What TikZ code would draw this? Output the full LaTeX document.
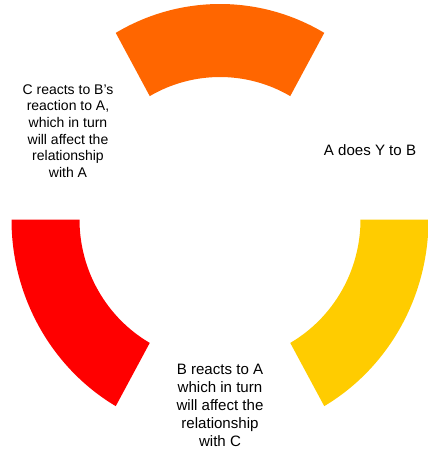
\documentclass[tikz,border=0pt]{standalone}
\usepackage{fontspec}
\setmainfont{Liberation Sans}

\definecolor{ringOrange}{RGB}{255,102,0}
\definecolor{ringYellow}{RGB}{255,204,0}
\definecolor{ringRed}{RGB}{255,0,0}

\tikzset{every picture/.style={line width=0.75pt}}

\begin{document}
\begin{tikzpicture}[x=0.75pt,y=0.75pt,yscale=-1,xscale=1,
  lbl/.style={align=center,inner sep=0.75pt,font=\fontsize{11.3}{13.5}\selectfont},
  lblsmall/.style={lbl,font=\fontsize{10.5}{12.5}\selectfont}]
\useasboundingbox (0,0) rectangle (428,451);

%Shape: Arc [top]
\fill [ringOrange] ([shift={(220,219.5)}]-60:208.5 and 215.5) arc[start angle=-60,end angle=-120,x radius=208.5,y radius=215.5]
  -- ([shift={(220,219.5)}]-120:140.5 and 142.5) arc[start angle=-120,end angle=-60,x radius=140.5,y radius=142.5] -- cycle ;
%Shape: Arc [right]
\fill [ringYellow] ([shift={(220,219.5)}]0:208.5 and 215.5) arc[start angle=0,end angle=60,x radius=208.5,y radius=215.5]
  -- ([shift={(220,219.5)}]60:140.5 and 142.5) arc[start angle=60,end angle=0,x radius=140.5,y radius=142.5] -- cycle ;
%Shape: Arc [left]
\fill [ringRed] ([shift={(220,219.5)}]180:208.5 and 215.5) arc[start angle=180,end angle=120,x radius=208.5,y radius=215.5]
  -- ([shift={(220,219.5)}]120:140.5 and 142.5) arc[start angle=120,end angle=180,x radius=140.5,y radius=142.5] -- cycle ;

% Text Node
\node [lblsmall] (cText) at (68,131) {C reacts to B's\\reaction to A,\\which in turn\\will affect the\\relationship\\with A};
% Text Node
\node [lbl] (aText) at (370,150) {A does Y to B};
% Text Node
\node [lbl] (bText) at (220,405) {B reacts to A\\which in turn\\will affect the\\relationship\\with C};

\end{tikzpicture}
\end{document}
